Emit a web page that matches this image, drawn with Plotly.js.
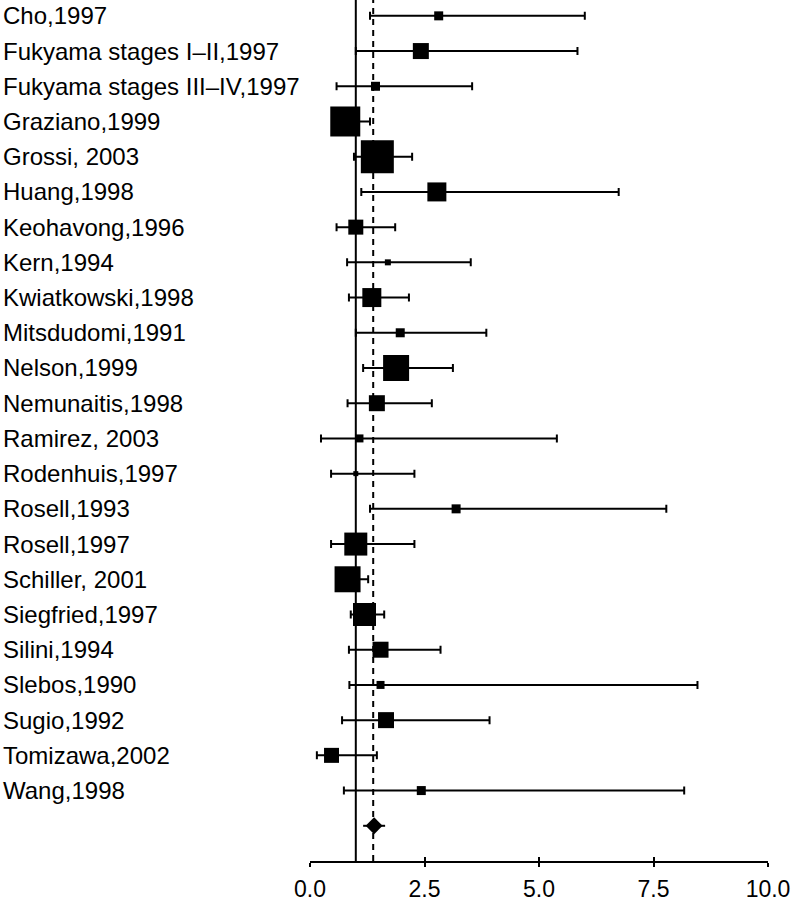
<!DOCTYPE html>
<html>
<head>
<meta charset="utf-8">
<script src="https://cdn.plot.ly/plotly-3.0.1.min.js"></script>
<style>html,body{margin:0;padding:0;background:#fff;}#chart{width:793px;height:902px;}</style>
</head>
<body>
<div id="chart"></div>
<script>
const studies = ["Cho,1997","Fukyama stages I\u2013II,1997","Fukyama stages III\u2013IV,1997","Graziano,1999","Grossi, 2003","Huang,1998","Keohavong,1996","Kern,1994","Kwiatkowski,1998","Mitsdudomi,1991","Nelson,1999","Nemunaitis,1998","Ramirez, 2003","Rodenhuis,1997","Rosell,1993","Rosell,1997","Schiller, 2001","Siegfried,1997","Silini,1994","Slebos,1990","Sugio,1992","Tomizawa,2002","Wang,1998"];
const estimate = [2.81,2.42,1.43,0.77,1.47,2.77,1.00,1.70,1.35,1.97,1.88,1.46,1.08,1.00,3.19,1.00,0.82,1.19,1.54,1.54,1.66,0.47,2.43];
const lower = [1.31,1.00,0.58,0.50,0.96,1.12,0.58,0.81,0.85,1.00,1.16,0.82,0.24,0.46,1.31,0.46,0.60,0.89,0.85,0.86,0.70,0.15,0.74];
const upper = [6.00,5.84,3.54,1.31,2.23,6.74,1.86,3.51,2.16,3.85,3.12,2.66,5.39,2.28,7.78,2.28,1.27,1.62,2.85,8.46,3.92,1.46,8.17];
const weight = [9,16,9,30,33,19,15,6,19,9,26,16,8,5,9,23,26,23,16,8,16,15,9];
const pooled = [1.40];
const pooledLower = [1.16];
const pooledUpper = [1.64];
const nullValue = 1;
const pooledLine = 1.38;
const xTicks = [0,2.5,5,7.5,10];
const xTickText = ["0.0","2.5","5.0","7.5","10.0"];

const rows = studies.map((_, i) => i);
const pooledRow = [studies.length];

const traces = [
  {
    type: "scatter", mode: "markers", x: estimate, y: rows, xaxis: "x", yaxis: "y",
    marker: {symbol: "square", size: weight, color: "#000", opacity: 1, line: {width: 0}},
    error_x: {type: "data", symmetric: false,
      array: estimate.map((e, i) => upper[i] - e),
      arrayminus: estimate.map((e, i) => e - lower[i]),
      color: "#000", thickness: 2, width: 4},
    hoverinfo: "skip", showlegend: false
  },
  {
    type: "scatter", mode: "markers", x: pooled, y: pooledRow, xaxis: "x2", yaxis: "y",
    marker: {symbol: "diamond", size: 13, color: "#000", opacity: 1, line: {width: 0}},
    error_x: {type: "data", symmetric: false,
      array: pooled.map((e, i) => pooledUpper[i] - e),
      arrayminus: pooled.map((e, i) => e - pooledLower[i]),
      color: "#000", thickness: 2, width: 0},
    hoverinfo: "skip", showlegend: false
  }
];

const W = 793, L = 310, R = 25;
const plotW = W - L - R;
const annotations = studies.map((s, i) => ({
  text: s, xref: "paper", yref: "y", x: (1 - L) / plotW, y: i,
  xanchor: "left", yanchor: "middle", showarrow: false,
  font: {family: "Liberation Sans, Arial, sans-serif", size: 24, color: "#000"}
}));

const layout = {
  width: 793, height: 902,
  margin: {l: L, r: R, t: 0, b: 41},
  paper_bgcolor: "#fff", plot_bgcolor: "#fff",
  showlegend: false,
  xaxis: {range: [0, 10], tickvals: xTicks, ticktext: xTickText, ticks: "outside", ticklen: 4,
    tickwidth: 2, tickcolor: "#000", showline: true, linecolor: "#000", linewidth: 2,
    showgrid: false, zeroline: false, anchor: "y", ticklabelstandoff: 2,
    tickfont: {family: "Liberation Sans, Arial, sans-serif", size: 23, color: "#000"}},
  xaxis2: {range: [0, 10], tickvals: xTicks, ticks: "inside", ticklen: 4, tickwidth: 2, tickcolor: "#000",
    showticklabels: false, showline: false, showgrid: false, zeroline: false,
    overlaying: "x", side: "bottom", anchor: "y"},
  yaxis: {range: [24, -0.45], showticklabels: false, ticks: "", showgrid: false, zeroline: false, showline: false},
  shapes: [
    {type: "line", xref: "x", yref: "paper", x0: nullValue, x1: nullValue, y0: 0, y1: 1,
      line: {color: "#000", width: 2}, layer: "below"},
    {type: "line", xref: "x", yref: "paper", x0: pooledLine, x1: pooledLine, y0: 0, y1: 1,
      line: {color: "#000", width: 2, dash: "6px,5px"}, layer: "below"}
  ],
  annotations: annotations
};

Plotly.newPlot("chart", traces, layout, {displayModeBar: false, staticPlot: true});
</script>
</body>
</html>
